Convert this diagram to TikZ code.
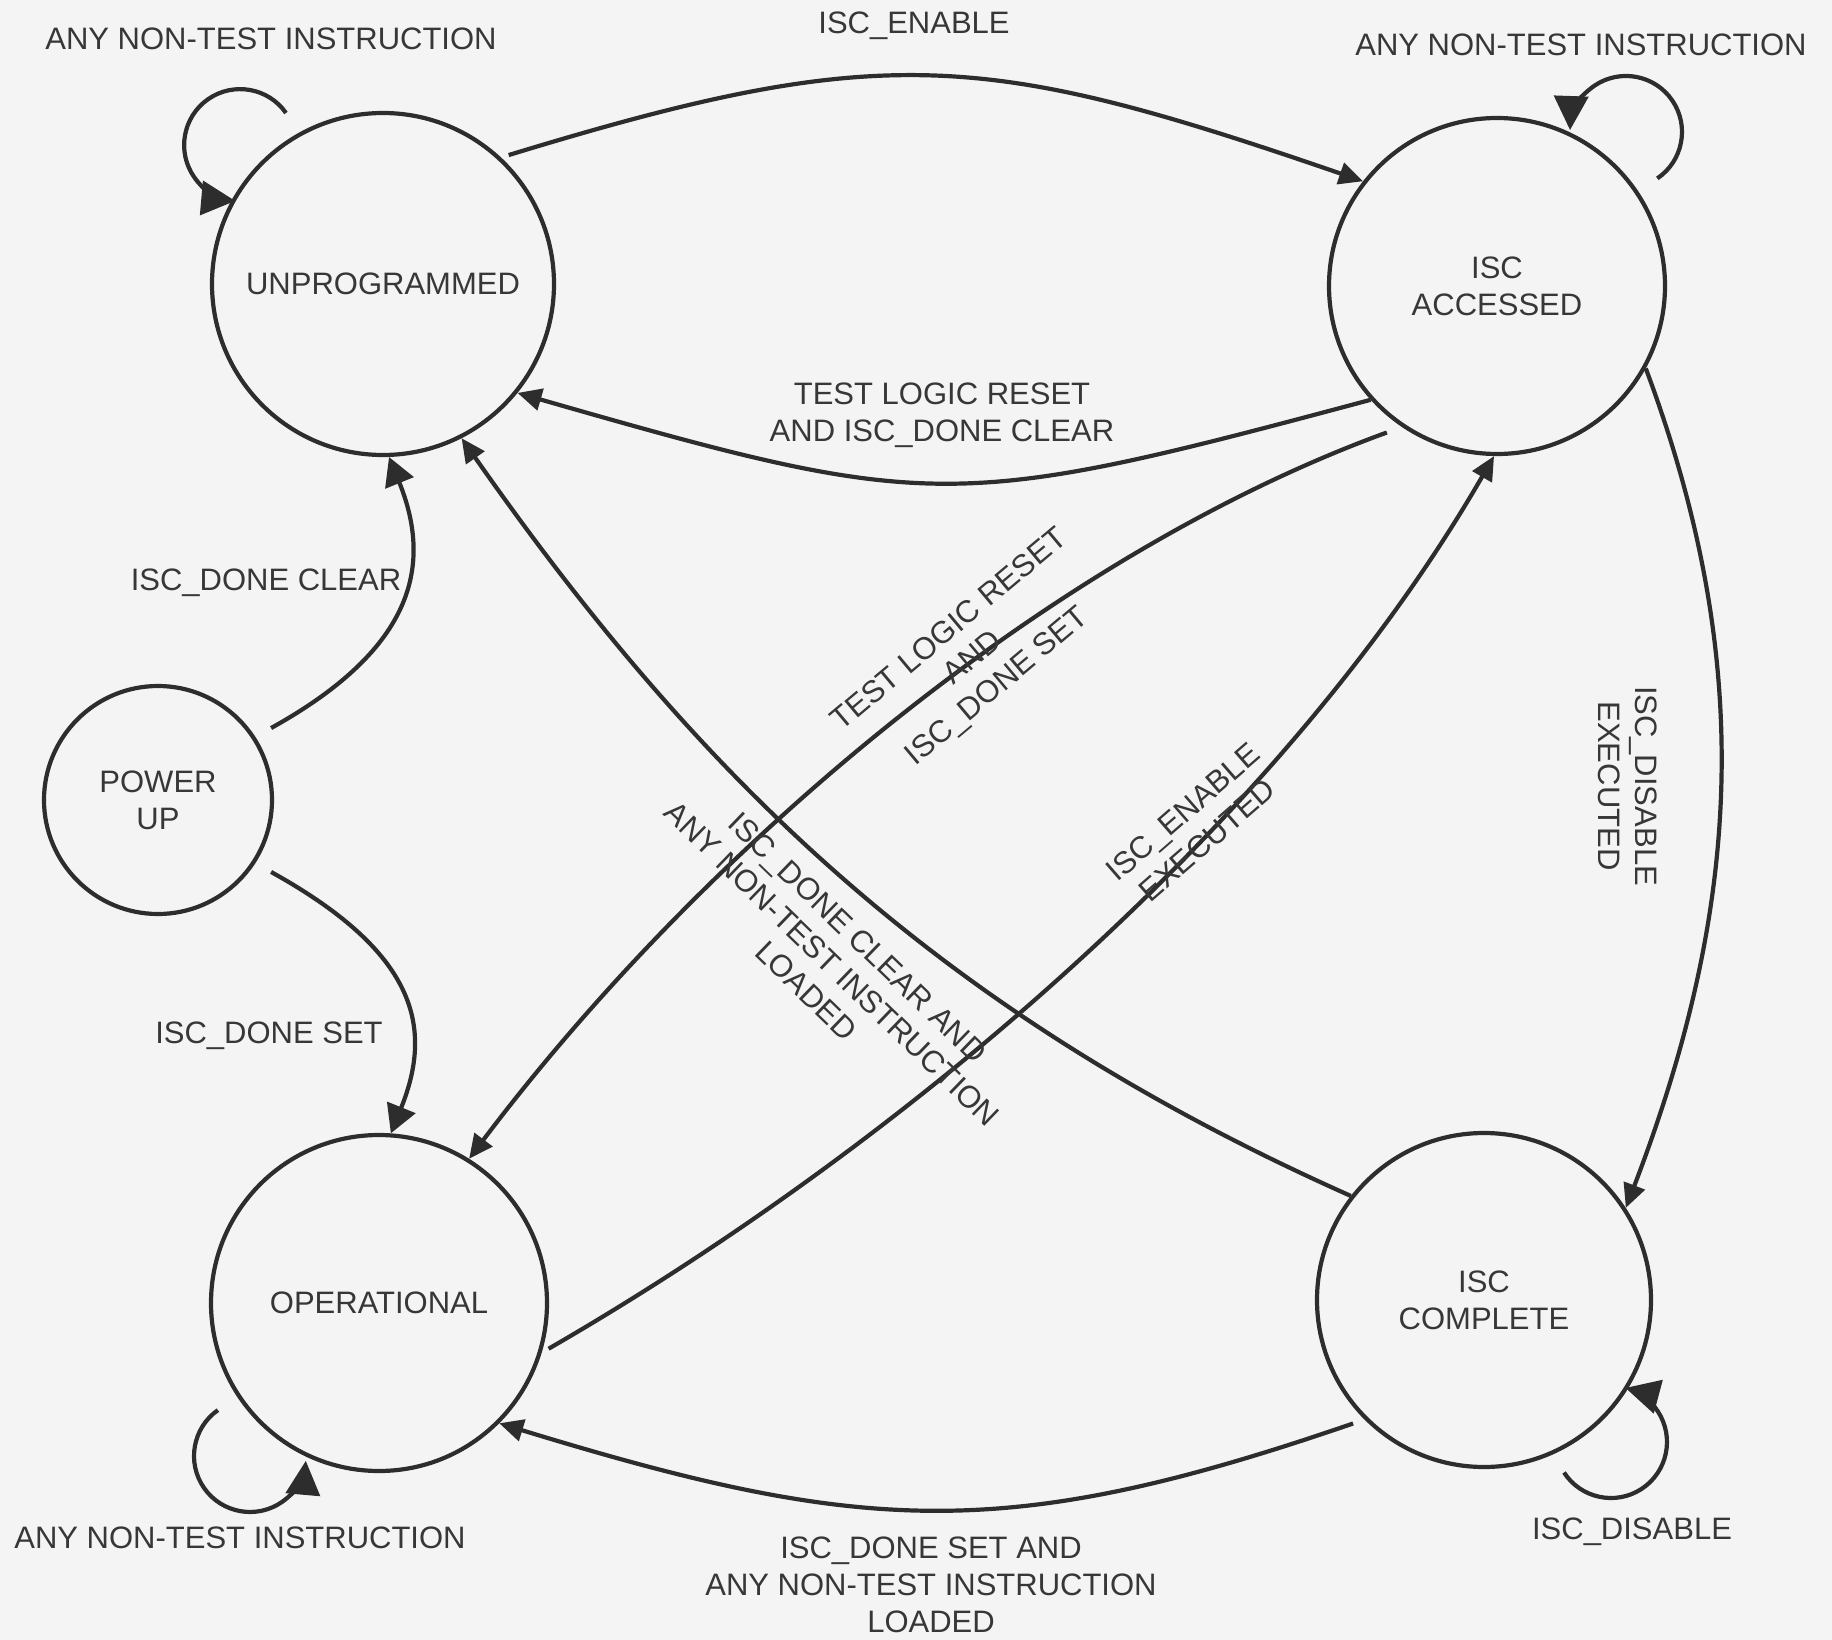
\documentclass[tikz,border=0pt]{standalone}
\usepackage{fontspec}
\setmainfont{Liberation Sans}
\usetikzlibrary{arrows.meta}
\definecolor{ink}{RGB}{45,45,45}
\definecolor{paper}{RGB}{244,244,244}
\definecolor{txt}{RGB}{55,55,55}

\begin{document}
\begin{tikzpicture}[x=1pt,y=1pt,
  state/.style={circle, draw=ink, line width=4.2pt, inner sep=0pt, align=center,
                text=txt, font=\fontsize{31}{37}\selectfont},
  lbl/.style={align=center, inner sep=0pt, text=txt, font=\fontsize{31}{37}\selectfont},
  conn/.style={draw=ink, line width=4.2pt, -{Triangle[length=24pt,width=22pt]}},
  bigconn/.style={conn, -{Triangle[length=28pt,width=30pt]}},
  loopconn/.style={conn, -{Triangle[length=34pt,width=34pt]}},
]
% page
\fill[paper, use as bounding box] (0,0) rectangle (1832,-1640);

% states
\node[state, minimum size=342pt] (UP)  at (383,-284)  {UNPROGRAMMED};
\node[state, minimum size=336pt] (ACC) at (1497,-286) {ISC\\ACCESSED};
\node[state, minimum size=228pt] (PWR) at (158,-800)  {POWER\\UP};
\node[state, minimum size=336pt] (OPR) at (379,-1303) {OPERATIONAL};
\node[state, minimum size=334pt] (CMP) at (1484,-1300) {ISC\\COMPLETE};

% transitions
\draw[conn, shorten <=8pt] (UP.47) .. controls +(17:400) and +(161:400) .. (ACC.142);
\draw[conn] (ACC.222) .. controls +(195:432) and +(-16:432) .. (UP.-39);
\draw[bigconn, shorten <=18pt] (PWR.33) .. controls +(29:184) and +(-68:115) .. (UP.-88);
\draw[bigconn, shorten <=18pt] (PWR.-33) .. controls +(-29:184) and +(68:115) .. (OPR.86);
\draw[conn] (ACC.-29) .. controls +(-69.5:318) and +(69:318) .. (CMP.33);
\draw[conn, shorten <=16pt] (ACC.236) .. controls +(200:380) and +(53:380) .. (OPR.58);
\draw[conn, shorten <=8pt] (OPR.-17) .. controls +(30:420) and +(240:420) .. (ACC.269);
\draw[conn] (CMP.142) .. controls +(156:435) and +(-55:435) .. (UP.-63);
\draw[conn, shorten <=12pt] (CMP.225) .. controls +(199:380) and +(-17:380) .. (OPR.-45);

% self loops
\coordinate (upLoop)  at (286,-113);
\coordinate (accLoop) at (1657.3,-178.4);
\coordinate (oprLoop) at (217.9,-1410.1);
\coordinate (cmpLoop) at (1564,-1472.5);
\draw[loopconn] (upLoop)  arc[start angle=35,  end angle=265, radius=56pt];
\draw[loopconn] (accLoop) arc[start angle=-56, end angle=178, radius=56pt];
\draw[loopconn] (oprLoop) arc[start angle=125, end angle=355, radius=56pt];
\draw[loopconn] (cmpLoop) arc[start angle=213, end angle=435, radius=56pt];

% labels
\node[lbl] (lUpLoop)  at (271,-39)  {ANY NON-TEST INSTRUCTION};
\node[lbl] (lEnable)  at (914,-26)  {ISC\_ENABLE};
\node[lbl] (lAccLoop) at (1581,-45) {ANY NON-TEST INSTRUCTION};
\node[lbl] (lReset)   at (942,-415) {TEST LOGIC RESET\\AND ISC\_DONE CLEAR};
\node[lbl] (lClear)   at (266,-583) {ISC\_DONE CLEAR};
\node[lbl] (lSet)     at (269,-1036) {ISC\_DONE SET};
\node[lbl, rotate=40]  (lResetSet) at (974,-659) {TEST LOGIC RESET\\AND\\ISC\_DONE SET};
\node[lbl, rotate=41]  (lEnExec)   at (1195,-826) {ISC\_ENABLE\\EXECUTED};
\node[lbl, rotate=-44] (lClearAny) at (832,-964) {ISC\_DONE CLEAR AND\\ANY NON-TEST INSTRUCTION\\LOADED};
\node[lbl, rotate=-90] (lDisExec)  at (1628,-786) {ISC\_DISABLE\\EXECUTED};
\node[lbl] (lOprLoop) at (240,-1538)  {ANY NON-TEST INSTRUCTION};
\node[lbl] (lCmpLoop) at (1632,-1532) {ISC\_DISABLE};
\node[lbl] (lSetAny)  at (931,-1585)  {ISC\_DONE SET AND\\ANY NON-TEST INSTRUCTION\\LOADED};
\end{tikzpicture}
\end{document}
